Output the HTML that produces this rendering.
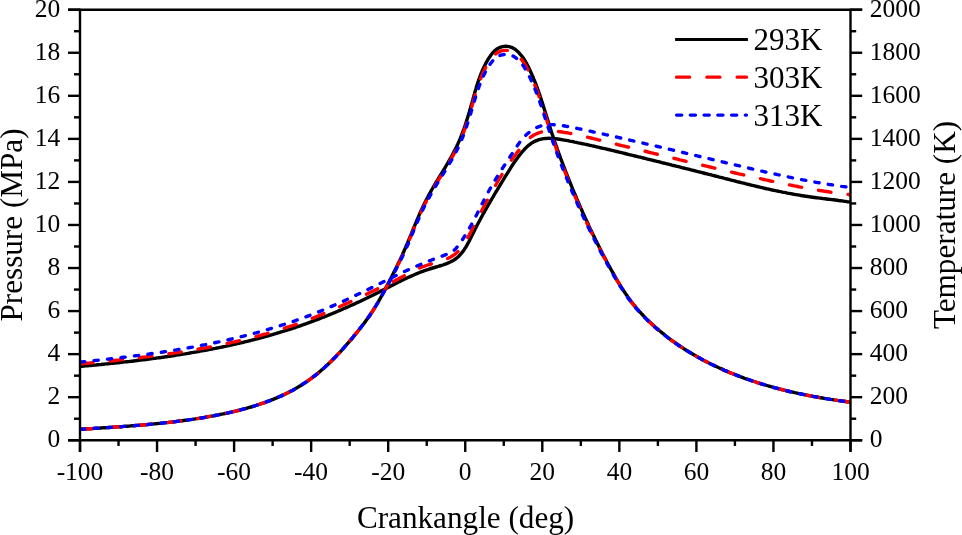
<!DOCTYPE html>
<html><head><meta charset="utf-8"><title>Pressure and temperature vs crank angle</title>
<style>
html,body{margin:0;padding:0;background:#fff;}
body{width:962px;height:535px;overflow:hidden;font-family:"Liberation Serif",serif;}
svg{display:block;will-change:transform;}
svg text{font-family:"Liberation Serif",serif;fill:#000;}
.tk text{font-size:25.5px;}
.ttl{font-size:31.2px;}
.lg text{font-size:31px;}
.crv path{fill:none;stroke-width:3.4;stroke-linejoin:round;}
</style></head>
<body>
<svg width="962" height="535" viewBox="0 0 962 535">
<rect width="962" height="535" fill="#fff"/>
<defs><clipPath id="c"><rect x="80.0" y="0" width="770.5" height="440.25"/></clipPath></defs>
<g class="crv" clip-path="url(#c)">
<path d="M80.5,366.4 L82.2,366.3 L83.9,366.1 L85.6,365.9 L87.4,365.8 L89.1,365.6 L90.8,365.5 L92.5,365.3 L94.2,365.1 L95.9,365.0 L97.6,364.8 L99.3,364.6 L101.1,364.5 L102.8,364.3 L104.5,364.1 L106.2,363.9 L107.9,363.8 L109.6,363.6 L111.3,363.4 L113.1,363.2 L114.8,363.1 L116.5,362.9 L118.2,362.7 L119.9,362.5 L121.6,362.3 L123.3,362.1 L125.0,361.9 L126.8,361.7 L128.5,361.6 L130.2,361.4 L131.9,361.2 L133.6,361.0 L135.3,360.8 L137.0,360.5 L138.7,360.3 L140.5,360.1 L142.2,359.9 L143.9,359.7 L145.6,359.5 L147.3,359.3 L149.0,359.1 L150.7,358.8 L152.4,358.6 L154.2,358.4 L155.9,358.2 L157.6,357.9 L159.3,357.7 L161.0,357.5 L162.7,357.2 L164.4,357.0 L166.1,356.7 L167.8,356.5 L169.5,356.2 L171.2,356.0 L172.9,355.7 L174.6,355.5 L176.3,355.2 L178.1,354.9 L179.8,354.7 L181.5,354.4 L183.2,354.1 L184.9,353.9 L186.6,353.6 L188.3,353.3 L190.0,353.0 L191.7,352.7 L193.4,352.4 L195.1,352.1 L196.8,351.9 L198.5,351.6 L200.2,351.2 L201.9,350.9 L203.6,350.6 L205.2,350.3 L206.9,350.0 L208.6,349.7 L210.3,349.4 L212.0,349.0 L213.7,348.7 L215.4,348.4 L217.1,348.0 L218.8,347.7 L220.5,347.3 L222.1,347.0 L223.8,346.6 L225.5,346.3 L227.2,345.9 L228.9,345.6 L230.6,345.2 L232.2,344.8 L233.9,344.4 L235.6,344.1 L237.3,343.7 L239.0,343.3 L240.6,342.9 L242.3,342.5 L244.0,342.1 L245.7,341.7 L247.3,341.3 L249.0,340.9 L250.7,340.5 L252.3,340.0 L254.0,339.6 L255.7,339.2 L257.3,338.8 L259.0,338.3 L260.7,337.9 L262.3,337.4 L264.0,337.0 L265.6,336.5 L267.3,336.1 L269.0,335.6 L270.6,335.1 L272.3,334.6 L273.9,334.2 L275.6,333.7 L277.2,333.2 L278.9,332.7 L280.5,332.2 L282.2,331.7 L283.8,331.2 L285.4,330.7 L287.1,330.1 L288.7,329.6 L290.4,329.1 L292.0,328.6 L293.6,328.0 L295.3,327.5 L296.9,326.9 L298.5,326.4 L300.2,325.8 L301.8,325.2 L303.4,324.7 L305.0,324.1 L306.7,323.5 L308.3,322.9 L309.9,322.3 L311.5,321.7 L313.1,321.1 L314.8,320.5 L316.4,319.9 L318.0,319.3 L319.6,318.7 L321.2,318.0 L322.8,317.4 L324.4,316.8 L326.0,316.1 L327.6,315.5 L329.2,314.8 L330.8,314.2 L332.4,313.5 L334.0,312.9 L335.6,312.2 L337.2,311.5 L338.8,310.8 L340.4,310.2 L342.0,309.5 L343.5,308.8 L345.1,308.1 L346.7,307.4 L348.3,306.7 L349.8,306.0 L351.4,305.3 L353.0,304.6 L354.6,303.9 L356.1,303.1 L357.7,302.4 L359.3,301.7 L360.8,301.0 L362.4,300.2 L363.9,299.5 L365.5,298.7 L367.0,298.0 L368.6,297.2 L370.1,296.5 L371.7,295.7 L373.2,295.0 L374.8,294.2 L376.3,293.4 L377.8,292.7 L379.4,291.9 L380.9,291.1 L382.4,290.3 L384.0,289.6 L385.5,288.8 L387.0,288.0 L388.6,287.2 L390.1,286.4 L391.6,285.6 L393.1,284.9 L394.7,284.1 L396.2,283.3 L397.7,282.5 L399.3,281.8 L400.8,281.0 L402.3,280.2 L403.9,279.5 L405.4,278.8 L407.0,278.0 L408.5,277.3 L410.1,276.6 L411.7,275.9 L413.2,275.2 L414.8,274.5 L416.4,273.8 L418.0,273.2 L419.6,272.5 L421.2,271.9 L422.8,271.3 L424.5,270.7 L426.1,270.1 L427.8,269.6 L429.4,269.0 L431.1,268.5 L432.8,268.0 L434.5,267.5 L436.2,267.0 L437.8,266.5 L439.5,266.0 L441.2,265.5 L442.8,265.0 L444.5,264.4 L446.1,263.8 L447.7,263.2 L449.2,262.5 L450.7,261.8 L452.2,261.0 L453.6,260.2 L455.0,259.3 L456.3,258.3 L457.6,257.3 L458.8,256.2 L460.0,255.0 L461.1,253.7 L462.2,252.4 L463.2,251.1 L464.2,249.6 L465.1,248.2 L466.1,246.7 L467.0,245.2 L467.8,243.6 L468.7,242.0 L469.5,240.4 L470.3,238.8 L471.1,237.2 L471.9,235.6 L472.7,234.0 L473.5,232.4 L474.3,230.9 L475.0,229.3 L475.8,227.7 L476.6,226.2 L477.4,224.7 L478.2,223.2 L479.0,221.7 L479.8,220.2 L480.6,218.7 L481.4,217.2 L482.2,215.7 L483.0,214.2 L483.8,212.8 L484.7,211.3 L485.5,209.8 L486.3,208.4 L487.2,206.9 L488.0,205.4 L488.9,203.9 L489.8,202.4 L490.6,200.9 L491.5,199.5 L492.4,198.0 L493.3,196.5 L494.1,195.0 L495.0,193.5 L495.9,192.0 L496.8,190.6 L497.7,189.1 L498.6,187.6 L499.5,186.1 L500.4,184.6 L501.3,183.1 L502.2,181.6 L503.1,180.2 L504.0,178.7 L504.9,177.2 L505.8,175.7 L506.7,174.3 L507.7,172.8 L508.6,171.3 L509.5,169.8 L510.4,168.4 L511.3,166.9 L512.2,165.5 L513.2,164.0 L514.1,162.6 L515.1,161.2 L516.1,159.8 L517.1,158.4 L518.1,157.0 L519.2,155.6 L520.2,154.3 L521.3,152.9 L522.4,151.6 L523.6,150.3 L524.8,149.0 L526.0,147.8 L527.2,146.6 L528.5,145.4 L529.9,144.4 L531.2,143.4 L532.7,142.4 L534.2,141.6 L535.7,140.9 L537.3,140.3 L538.9,139.7 L540.5,139.3 L542.2,138.9 L543.8,138.6 L545.6,138.5 L547.3,138.4 L549.0,138.3 L550.7,138.4 L552.5,138.5 L554.2,138.6 L555.9,138.8 L557.6,139.0 L559.4,139.3 L561.1,139.5 L562.8,139.8 L564.5,140.1 L566.2,140.4 L567.9,140.7 L569.6,141.1 L571.3,141.4 L573.0,141.7 L574.7,142.1 L576.4,142.4 L578.1,142.8 L579.8,143.1 L581.5,143.5 L583.1,143.8 L584.8,144.2 L586.5,144.5 L588.2,144.9 L589.9,145.3 L591.6,145.7 L593.2,146.0 L594.9,146.4 L596.6,146.8 L598.3,147.2 L599.9,147.6 L601.6,148.0 L603.3,148.3 L605.0,148.7 L606.6,149.1 L608.3,149.5 L610.0,149.9 L611.7,150.3 L613.3,150.7 L615.0,151.1 L616.7,151.5 L618.3,151.9 L620.0,152.3 L621.7,152.7 L623.4,153.1 L625.0,153.5 L626.7,154.0 L628.4,154.4 L630.0,154.8 L631.7,155.2 L633.4,155.6 L635.1,156.0 L636.7,156.4 L638.4,156.8 L640.1,157.2 L641.8,157.6 L643.4,158.0 L645.1,158.4 L646.8,158.9 L648.4,159.3 L650.1,159.7 L651.8,160.1 L653.5,160.5 L655.1,160.9 L656.8,161.3 L658.5,161.7 L660.2,162.1 L661.8,162.6 L663.5,163.0 L665.2,163.4 L666.8,163.8 L668.5,164.2 L670.2,164.6 L671.9,165.1 L673.5,165.5 L675.2,165.9 L676.9,166.3 L678.6,166.7 L680.2,167.1 L681.9,167.6 L683.6,168.0 L685.2,168.4 L686.9,168.8 L688.6,169.2 L690.3,169.7 L691.9,170.1 L693.6,170.5 L695.3,170.9 L697.0,171.4 L698.6,171.8 L700.3,172.2 L702.0,172.6 L703.6,173.0 L705.3,173.5 L707.0,173.9 L708.7,174.3 L710.3,174.7 L712.0,175.2 L713.7,175.6 L715.3,176.0 L717.0,176.4 L718.7,176.9 L720.3,177.3 L722.0,177.7 L723.7,178.2 L725.4,178.6 L727.0,179.0 L728.7,179.4 L730.4,179.9 L732.0,180.3 L733.7,180.7 L735.4,181.1 L737.1,181.6 L738.7,182.0 L740.4,182.4 L742.1,182.8 L743.7,183.2 L745.4,183.7 L747.1,184.1 L748.8,184.5 L750.4,184.9 L752.1,185.3 L753.8,185.7 L755.5,186.1 L757.1,186.5 L758.8,186.9 L760.5,187.3 L762.2,187.7 L763.8,188.1 L765.5,188.5 L767.2,188.8 L768.9,189.2 L770.5,189.6 L772.2,190.0 L773.9,190.3 L775.6,190.7 L777.3,191.0 L779.0,191.4 L780.6,191.7 L782.3,192.1 L784.0,192.4 L785.7,192.7 L787.4,193.1 L789.1,193.4 L790.8,193.7 L792.5,194.0 L794.2,194.3 L795.9,194.6 L797.6,194.9 L799.3,195.2 L801.0,195.5 L802.7,195.8 L804.4,196.0 L806.1,196.3 L807.8,196.5 L809.5,196.8 L811.2,197.0 L812.9,197.3 L814.6,197.5 L816.3,197.7 L818.0,197.9 L819.7,198.1 L821.5,198.3 L823.2,198.6 L824.9,198.8 L826.6,199.0 L828.3,199.2 L830.0,199.4 L831.7,199.6 L833.5,199.8 L835.2,200.0 L836.9,200.2 L838.6,200.5 L840.3,200.7 L842.0,200.9 L843.7,201.2 L845.4,201.4 L847.1,201.7 L848.8,201.9 L850.5,202.2" stroke="#000"/>
<path d="M80.5,429.2 L82.2,429.2 L83.8,429.1 L85.5,429.0 L87.2,428.9 L88.9,428.8 L90.5,428.7 L92.2,428.6 L93.9,428.4 L95.5,428.3 L97.2,428.2 L98.9,428.1 L100.6,428.0 L102.2,427.9 L103.9,427.8 L105.6,427.7 L107.2,427.6 L108.9,427.5 L110.6,427.4 L112.2,427.3 L113.9,427.1 L115.6,427.0 L117.2,426.9 L118.9,426.8 L120.6,426.7 L122.2,426.6 L123.9,426.4 L125.6,426.3 L127.2,426.2 L128.9,426.1 L130.6,425.9 L132.2,425.8 L133.9,425.7 L135.6,425.5 L137.2,425.4 L138.9,425.3 L140.6,425.1 L142.2,425.0 L143.9,424.9 L145.5,424.7 L147.2,424.6 L148.9,424.4 L150.5,424.3 L152.2,424.1 L153.8,423.9 L155.5,423.8 L157.2,423.6 L158.8,423.4 L160.5,423.3 L162.1,423.1 L163.8,422.9 L165.5,422.7 L167.1,422.6 L168.8,422.4 L170.4,422.2 L172.1,422.0 L173.7,421.8 L175.4,421.6 L177.1,421.4 L178.7,421.2 L180.4,421.0 L182.0,420.8 L183.7,420.5 L185.3,420.3 L187.0,420.1 L188.6,419.9 L190.3,419.6 L191.9,419.4 L193.6,419.1 L195.3,418.9 L196.9,418.6 L198.6,418.4 L200.2,418.1 L201.9,417.8 L203.5,417.6 L205.2,417.3 L206.8,417.0 L208.5,416.7 L210.1,416.4 L211.8,416.1 L213.4,415.8 L215.1,415.5 L216.7,415.2 L218.4,414.9 L220.0,414.5 L221.7,414.2 L223.3,413.9 L225.0,413.5 L226.6,413.2 L228.3,412.8 L229.9,412.4 L231.5,412.1 L233.2,411.7 L234.8,411.3 L236.4,410.9 L238.1,410.5 L239.7,410.1 L241.3,409.7 L243.0,409.2 L244.6,408.8 L246.2,408.4 L247.8,407.9 L249.4,407.4 L251.0,407.0 L252.7,406.5 L254.3,406.0 L255.9,405.5 L257.4,405.0 L259.0,404.5 L260.6,403.9 L262.2,403.4 L263.8,402.9 L265.4,402.3 L266.9,401.7 L268.5,401.1 L270.0,400.6 L271.6,399.9 L273.1,399.3 L274.7,398.7 L276.2,398.1 L277.7,397.4 L279.3,396.7 L280.8,396.1 L282.3,395.4 L283.8,394.7 L285.3,394.0 L286.8,393.2 L288.3,392.5 L289.7,391.7 L291.2,391.0 L292.7,390.2 L294.1,389.4 L295.6,388.6 L297.0,387.8 L298.4,386.9 L299.8,386.1 L301.2,385.2 L302.6,384.3 L304.0,383.4 L305.4,382.5 L306.8,381.6 L308.2,380.6 L309.5,379.7 L310.9,378.7 L312.2,377.7 L313.5,376.7 L314.9,375.7 L316.2,374.6 L317.5,373.6 L318.8,372.5 L320.1,371.4 L321.3,370.3 L322.6,369.2 L323.9,368.1 L325.1,367.0 L326.3,365.8 L327.6,364.7 L328.8,363.5 L330.0,362.4 L331.2,361.2 L332.4,360.0 L333.6,358.8 L334.8,357.6 L336.0,356.4 L337.1,355.2 L338.3,353.9 L339.5,352.7 L340.6,351.5 L341.8,350.2 L342.9,349.0 L344.0,347.7 L345.1,346.4 L346.2,345.2 L347.3,343.9 L348.4,342.6 L349.5,341.3 L350.6,340.0 L351.7,338.8 L352.8,337.5 L353.8,336.2 L354.9,334.9 L355.9,333.6 L357.0,332.3 L358.0,331.0 L359.1,329.7 L360.1,328.4 L361.1,327.1 L362.1,325.8 L363.1,324.5 L364.1,323.2 L365.1,321.9 L366.1,320.5 L367.0,319.2 L368.0,317.9 L369.0,316.5 L369.9,315.2 L370.8,313.8 L371.7,312.4 L372.7,311.0 L373.6,309.6 L374.4,308.2 L375.3,306.8 L376.2,305.4 L377.0,304.0 L377.9,302.5 L378.7,301.1 L379.5,299.6 L380.4,298.1 L381.2,296.7 L382.0,295.2 L382.8,293.7 L383.6,292.2 L384.4,290.7 L385.2,289.3 L386.0,287.8 L386.7,286.3 L387.5,284.8 L388.3,283.3 L389.1,281.8 L389.8,280.3 L390.6,278.9 L391.4,277.4 L392.1,275.9 L392.9,274.4 L393.6,272.9 L394.4,271.4 L395.1,269.9 L395.9,268.4 L396.6,266.9 L397.3,265.4 L398.0,263.9 L398.8,262.4 L399.5,260.9 L400.2,259.4 L400.9,257.9 L401.6,256.4 L402.3,254.9 L403.0,253.3 L403.7,251.8 L404.3,250.3 L405.0,248.8 L405.7,247.2 L406.3,245.7 L407.0,244.2 L407.7,242.6 L408.3,241.1 L408.9,239.6 L409.6,238.0 L410.2,236.5 L410.9,234.9 L411.5,233.4 L412.1,231.8 L412.8,230.3 L413.4,228.7 L414.0,227.2 L414.7,225.6 L415.3,224.1 L416.0,222.5 L416.6,221.0 L417.3,219.5 L417.9,217.9 L418.6,216.4 L419.2,214.9 L419.9,213.3 L420.6,211.8 L421.3,210.3 L422.0,208.8 L422.7,207.2 L423.4,205.7 L424.1,204.2 L424.8,202.7 L425.6,201.2 L426.3,199.7 L427.1,198.2 L427.9,196.8 L428.7,195.3 L429.5,193.8 L430.3,192.4 L431.1,190.9 L431.9,189.5 L432.8,188.0 L433.6,186.6 L434.5,185.1 L435.3,183.7 L436.2,182.2 L437.0,180.8 L437.9,179.4 L438.8,177.9 L439.7,176.5 L440.5,175.1 L441.4,173.6 L442.3,172.2 L443.1,170.8 L444.0,169.3 L444.9,167.9 L445.7,166.5 L446.6,165.0 L447.4,163.6 L448.3,162.1 L449.1,160.7 L449.9,159.2 L450.8,157.8 L451.6,156.3 L452.4,154.9 L453.2,153.4 L453.9,151.9 L454.7,150.4 L455.4,149.0 L456.2,147.5 L456.9,146.0 L457.6,144.5 L458.3,142.9 L459.0,141.4 L459.6,139.9 L460.3,138.4 L460.9,136.8 L461.5,135.3 L462.1,133.7 L462.7,132.1 L463.3,130.6 L463.9,129.0 L464.4,127.4 L465.0,125.8 L465.5,124.3 L466.0,122.7 L466.5,121.1 L467.0,119.5 L467.5,117.9 L468.0,116.3 L468.5,114.7 L469.0,113.1 L469.5,111.4 L469.9,109.8 L470.4,108.2 L470.9,106.6 L471.3,105.0 L471.8,103.4 L472.2,101.8 L472.7,100.2 L473.1,98.6 L473.6,96.9 L474.0,95.3 L474.5,93.7 L474.9,92.1 L475.4,90.5 L475.9,88.9 L476.3,87.3 L476.8,85.8 L477.3,84.2 L477.8,82.6 L478.4,81.0 L478.9,79.4 L479.5,77.9 L480.0,76.3 L480.6,74.8 L481.2,73.2 L481.9,71.7 L482.5,70.1 L483.2,68.6 L483.9,67.1 L484.7,65.6 L485.4,64.1 L486.2,62.6 L487.1,61.1 L487.9,59.7 L488.8,58.2 L489.8,56.8 L490.8,55.3 L491.8,54.0 L492.9,52.7 L494.0,51.5 L495.2,50.3 L496.5,49.3 L497.9,48.4 L499.3,47.7 L500.8,47.1 L502.4,46.7 L504.1,46.4 L505.7,46.3 L507.4,46.4 L509.1,46.7 L510.7,47.1 L512.3,47.7 L513.8,48.5 L515.2,49.4 L516.5,50.5 L517.8,51.6 L519.0,52.8 L520.1,54.1 L521.2,55.3 L522.3,56.7 L523.2,58.0 L524.2,59.4 L525.0,60.8 L525.9,62.3 L526.7,63.7 L527.5,65.2 L528.3,66.7 L529.0,68.2 L529.7,69.7 L530.4,71.2 L531.1,72.7 L531.8,74.3 L532.4,75.8 L533.1,77.3 L533.7,78.9 L534.4,80.4 L535.0,82.0 L535.6,83.5 L536.2,85.1 L536.8,86.6 L537.3,88.2 L537.9,89.8 L538.5,91.4 L539.0,92.9 L539.6,94.5 L540.1,96.1 L540.6,97.7 L541.2,99.3 L541.7,100.9 L542.2,102.4 L542.7,104.0 L543.2,105.6 L543.7,107.2 L544.2,108.8 L544.7,110.4 L545.2,112.0 L545.7,113.6 L546.2,115.2 L546.7,116.8 L547.2,118.4 L547.7,120.0 L548.2,121.6 L548.7,123.2 L549.2,124.8 L549.7,126.4 L550.2,128.0 L550.7,129.6 L551.2,131.2 L551.7,132.8 L552.3,134.4 L552.8,135.9 L553.3,137.5 L553.8,139.1 L554.4,140.7 L554.9,142.3 L555.5,143.9 L556.0,145.4 L556.6,147.0 L557.1,148.6 L557.7,150.2 L558.2,151.7 L558.8,153.3 L559.4,154.9 L560.0,156.4 L560.5,158.0 L561.1,159.6 L561.7,161.1 L562.3,162.7 L562.9,164.3 L563.5,165.8 L564.1,167.4 L564.7,168.9 L565.3,170.5 L565.9,172.1 L566.5,173.6 L567.1,175.2 L567.7,176.7 L568.3,178.3 L569.0,179.8 L569.6,181.4 L570.2,182.9 L570.8,184.5 L571.5,186.0 L572.1,187.6 L572.7,189.1 L573.4,190.6 L574.0,192.2 L574.7,193.7 L575.3,195.3 L576.0,196.8 L576.6,198.4 L577.3,199.9 L577.9,201.4 L578.6,203.0 L579.3,204.5 L579.9,206.0 L580.6,207.6 L581.3,209.1 L582.0,210.6 L582.6,212.2 L583.3,213.7 L584.0,215.2 L584.7,216.7 L585.4,218.3 L586.1,219.8 L586.8,221.3 L587.5,222.8 L588.2,224.3 L588.9,225.9 L589.6,227.4 L590.3,228.9 L591.0,230.4 L591.8,231.9 L592.5,233.4 L593.2,234.9 L593.9,236.4 L594.7,237.9 L595.4,239.4 L596.1,240.9 L596.9,242.4 L597.6,243.9 L598.4,245.4 L599.1,246.9 L599.9,248.4 L600.6,249.9 L601.4,251.4 L602.2,252.9 L602.9,254.4 L603.7,255.8 L604.5,257.3 L605.3,258.8 L606.1,260.3 L606.8,261.7 L607.6,263.2 L608.4,264.7 L609.2,266.2 L610.0,267.6 L610.8,269.1 L611.6,270.5 L612.4,272.0 L613.3,273.4 L614.1,274.9 L614.9,276.3 L615.7,277.8 L616.6,279.2 L617.4,280.7 L618.3,282.1 L619.1,283.5 L620.0,285.0 L620.9,286.4 L621.8,287.8 L622.7,289.2 L623.6,290.6 L624.5,292.0 L625.4,293.4 L626.3,294.7 L627.3,296.1 L628.2,297.5 L629.2,298.8 L630.2,300.1 L631.2,301.5 L632.2,302.8 L633.2,304.1 L634.3,305.4 L635.4,306.7 L636.4,308.0 L637.5,309.3 L638.6,310.5 L639.7,311.8 L640.9,313.0 L642.0,314.3 L643.2,315.5 L644.3,316.7 L645.5,317.9 L646.7,319.1 L647.9,320.3 L649.1,321.5 L650.3,322.6 L651.6,323.8 L652.8,324.9 L654.1,326.0 L655.3,327.2 L656.6,328.3 L657.9,329.4 L659.2,330.5 L660.5,331.5 L661.7,332.6 L663.1,333.7 L664.4,334.7 L665.7,335.8 L667.0,336.8 L668.3,337.8 L669.7,338.8 L671.0,339.8 L672.4,340.8 L673.7,341.8 L675.1,342.7 L676.4,343.7 L677.8,344.7 L679.2,345.6 L680.6,346.5 L682.0,347.4 L683.3,348.4 L684.7,349.3 L686.2,350.2 L687.6,351.0 L689.0,351.9 L690.4,352.8 L691.8,353.6 L693.3,354.5 L694.7,355.3 L696.1,356.1 L697.6,357.0 L699.0,357.8 L700.5,358.6 L702.0,359.4 L703.4,360.2 L704.9,360.9 L706.4,361.7 L707.9,362.5 L709.3,363.2 L710.8,364.0 L712.3,364.7 L713.8,365.4 L715.3,366.1 L716.8,366.8 L718.3,367.5 L719.9,368.2 L721.4,368.9 L722.9,369.6 L724.4,370.3 L726.0,370.9 L727.5,371.6 L729.0,372.2 L730.6,372.9 L732.1,373.5 L733.7,374.1 L735.2,374.7 L736.8,375.3 L738.3,375.9 L739.9,376.5 L741.5,377.1 L743.0,377.7 L744.6,378.3 L746.2,378.8 L747.8,379.4 L749.4,379.9 L750.9,380.5 L752.5,381.0 L754.1,381.5 L755.7,382.0 L757.3,382.6 L758.9,383.1 L760.5,383.6 L762.1,384.1 L763.7,384.5 L765.3,385.0 L766.9,385.5 L768.5,386.0 L770.1,386.4 L771.8,386.9 L773.4,387.3 L775.0,387.8 L776.6,388.2 L778.2,388.6 L779.9,389.0 L781.5,389.5 L783.1,389.9 L784.8,390.3 L786.4,390.7 L788.0,391.1 L789.6,391.5 L791.3,391.8 L792.9,392.2 L794.6,392.6 L796.2,392.9 L797.8,393.3 L799.5,393.7 L801.1,394.0 L802.8,394.3 L804.4,394.7 L806.0,395.0 L807.7,395.3 L809.3,395.7 L811.0,396.0 L812.6,396.3 L814.3,396.6 L815.9,396.9 L817.6,397.2 L819.2,397.5 L820.9,397.8 L822.5,398.0 L824.2,398.3 L825.8,398.6 L827.4,398.9 L829.1,399.1 L830.7,399.4 L832.4,399.6 L834.0,399.9 L835.7,400.1 L837.3,400.4 L839.0,400.6 L840.6,400.8 L842.3,401.1 L843.9,401.3 L845.5,401.5 L847.2,401.7 L848.8,401.9 L850.5,402.3" stroke="#000"/>
<path d="M80.5,363.9 L82.2,363.7 L83.9,363.6 L85.6,363.4 L87.3,363.2 L89.1,363.1 L90.8,362.9 L92.5,362.7 L94.2,362.6 L95.9,362.4 L97.6,362.2 L99.3,362.1 L101.0,361.9 L102.8,361.7 L104.5,361.5 L106.2,361.4 L107.9,361.2 L109.6,361.0 L111.3,360.8 L113.1,360.7 L114.8,360.5 L116.5,360.3 L118.2,360.1 L119.9,359.9 L121.6,359.7 L123.4,359.5 L125.1,359.4 L126.8,359.2 L128.5,359.0 L130.2,358.8 L131.9,358.6 L133.7,358.4 L135.4,358.2 L137.1,358.0 L138.8,357.8 L140.5,357.6 L142.3,357.3 L144.0,357.1 L145.7,356.9 L147.4,356.7 L149.1,356.5 L150.8,356.3 L152.6,356.0 L154.3,355.8 L156.0,355.6 L157.7,355.4 L159.4,355.1 L161.1,354.9 L162.8,354.7 L164.6,354.4 L166.3,354.2 L168.0,353.9 L169.7,353.7 L171.4,353.4 L173.1,353.2 L174.8,352.9 L176.6,352.7 L178.3,352.4 L180.0,352.1 L181.7,351.9 L183.4,351.6 L185.1,351.3 L186.8,351.0 L188.5,350.8 L190.2,350.5 L191.9,350.2 L193.6,349.9 L195.3,349.6 L197.0,349.3 L198.8,349.0 L200.5,348.7 L202.2,348.4 L203.9,348.1 L205.6,347.8 L207.3,347.5 L209.0,347.1 L210.7,346.8 L212.4,346.5 L214.0,346.2 L215.7,345.8 L217.4,345.5 L219.1,345.1 L220.8,344.8 L222.5,344.4 L224.2,344.1 L225.9,343.7 L227.6,343.4 L229.3,343.0 L231.0,342.6 L232.6,342.2 L234.3,341.9 L236.0,341.5 L237.7,341.1 L239.4,340.7 L241.1,340.3 L242.7,339.9 L244.4,339.5 L246.1,339.1 L247.8,338.7 L249.4,338.2 L251.1,337.8 L252.8,337.4 L254.4,336.9 L256.1,336.5 L257.8,336.1 L259.4,335.6 L261.1,335.2 L262.8,334.7 L264.4,334.2 L266.1,333.8 L267.8,333.3 L269.4,332.8 L271.1,332.3 L272.7,331.8 L274.4,331.4 L276.0,330.9 L277.7,330.3 L279.3,329.8 L281.0,329.3 L282.6,328.8 L284.2,328.3 L285.9,327.7 L287.5,327.2 L289.2,326.7 L290.8,326.1 L292.4,325.6 L294.1,325.0 L295.7,324.4 L297.3,323.9 L298.9,323.3 L300.6,322.7 L302.2,322.1 L303.8,321.5 L305.4,320.9 L307.0,320.3 L308.6,319.7 L310.3,319.1 L311.9,318.5 L313.5,317.8 L315.1,317.2 L316.7,316.5 L318.3,315.9 L319.9,315.2 L321.5,314.6 L323.1,313.9 L324.7,313.2 L326.3,312.6 L327.9,311.9 L329.4,311.2 L331.0,310.5 L332.6,309.8 L334.2,309.1 L335.8,308.4 L337.4,307.7 L338.9,307.0 L340.5,306.3 L342.1,305.5 L343.7,304.8 L345.3,304.1 L346.8,303.4 L348.4,302.7 L350.0,301.9 L351.5,301.2 L353.1,300.5 L354.7,299.7 L356.2,299.0 L357.8,298.3 L359.4,297.5 L360.9,296.8 L362.5,296.0 L364.1,295.3 L365.6,294.6 L367.2,293.8 L368.8,293.1 L370.3,292.3 L371.9,291.6 L373.4,290.9 L375.0,290.1 L376.6,289.4 L378.1,288.7 L379.7,287.9 L381.2,287.2 L382.8,286.5 L384.4,285.7 L385.9,285.0 L387.5,284.3 L389.0,283.5 L390.6,282.8 L392.1,282.0 L393.7,281.2 L395.2,280.5 L396.7,279.7 L398.3,278.9 L399.8,278.1 L401.3,277.3 L402.9,276.5 L404.4,275.7 L405.9,274.8 L407.4,274.0 L408.9,273.2 L410.5,272.4 L412.0,271.6 L413.5,270.8 L415.1,270.0 L416.6,269.3 L418.2,268.6 L419.8,267.9 L421.4,267.2 L423.0,266.6 L424.6,266.1 L426.3,265.5 L427.9,265.0 L429.6,264.5 L431.3,264.0 L432.9,263.5 L434.6,263.0 L436.3,262.6 L438.0,262.1 L439.6,261.5 L441.3,261.0 L442.9,260.4 L444.5,259.8 L446.1,259.2 L447.7,258.5 L449.2,257.7 L450.8,256.9 L452.2,256.0 L453.7,255.1 L455.1,254.1 L456.4,253.0 L457.7,251.8 L458.9,250.6 L460.0,249.3 L461.1,248.0 L462.1,246.6 L463.1,245.2 L464.1,243.8 L465.0,242.3 L465.9,240.8 L466.8,239.4 L467.6,237.9 L468.5,236.3 L469.3,234.8 L470.1,233.3 L470.9,231.8 L471.7,230.2 L472.5,228.7 L473.2,227.1 L474.0,225.6 L474.8,224.0 L475.6,222.5 L476.3,221.0 L477.1,219.4 L477.9,217.9 L478.7,216.3 L479.5,214.8 L480.3,213.3 L481.1,211.8 L481.9,210.2 L482.7,208.7 L483.5,207.2 L484.3,205.7 L485.1,204.1 L486.0,202.6 L486.8,201.1 L487.6,199.6 L488.4,198.1 L489.3,196.5 L490.1,195.0 L490.9,193.5 L491.8,192.0 L492.6,190.5 L493.4,189.0 L494.3,187.5 L495.1,186.0 L496.0,184.5 L496.9,183.0 L497.7,181.5 L498.6,180.0 L499.5,178.5 L500.4,177.0 L501.3,175.6 L502.2,174.1 L503.1,172.6 L504.0,171.2 L505.0,169.7 L505.9,168.3 L506.8,166.8 L507.8,165.4 L508.8,164.0 L509.8,162.6 L510.7,161.1 L511.8,159.7 L512.8,158.3 L513.8,157.0 L514.8,155.6 L515.9,154.2 L516.9,152.8 L518.0,151.4 L519.0,150.1 L520.1,148.7 L521.2,147.3 L522.3,145.9 L523.4,144.5 L524.5,143.2 L525.6,141.9 L526.8,140.7 L528.1,139.5 L529.4,138.3 L530.7,137.2 L532.1,136.2 L533.5,135.3 L535.0,134.5 L536.6,133.8 L538.2,133.1 L539.8,132.5 L541.4,132.0 L543.1,131.7 L544.8,131.4 L546.5,131.2 L548.2,131.1 L550.0,131.0 L551.7,131.0 L553.4,131.1 L555.2,131.2 L556.9,131.4 L558.7,131.6 L560.4,131.8 L562.1,132.0 L563.8,132.3 L565.6,132.6 L567.3,132.8 L569.0,133.2 L570.7,133.5 L572.4,133.8 L574.1,134.2 L575.8,134.5 L577.4,134.9 L579.1,135.3 L580.8,135.6 L582.5,136.0 L584.2,136.4 L585.8,136.8 L587.5,137.2 L589.2,137.6 L590.9,138.0 L592.5,138.4 L594.2,138.8 L595.9,139.2 L597.6,139.7 L599.3,140.1 L600.9,140.5 L602.6,140.9 L604.3,141.3 L606.0,141.7 L607.6,142.1 L609.3,142.5 L611.0,142.9 L612.7,143.3 L614.3,143.7 L616.0,144.1 L617.7,144.6 L619.4,145.0 L621.0,145.4 L622.7,145.8 L624.4,146.2 L626.1,146.6 L627.8,147.0 L629.4,147.4 L631.1,147.8 L632.8,148.3 L634.5,148.7 L636.1,149.1 L637.8,149.5 L639.5,149.9 L641.2,150.3 L642.8,150.7 L644.5,151.1 L646.2,151.5 L647.9,152.0 L649.6,152.4 L651.2,152.8 L652.9,153.2 L654.6,153.6 L656.3,154.0 L657.9,154.4 L659.6,154.8 L661.3,155.2 L663.0,155.7 L664.7,156.1 L666.3,156.5 L668.0,156.9 L669.7,157.3 L671.4,157.7 L673.0,158.1 L674.7,158.5 L676.4,158.9 L678.1,159.3 L679.8,159.8 L681.4,160.2 L683.1,160.6 L684.8,161.0 L686.5,161.4 L688.2,161.8 L689.8,162.2 L691.5,162.6 L693.2,163.0 L694.9,163.4 L696.6,163.8 L698.2,164.2 L699.9,164.6 L701.6,165.0 L703.3,165.4 L705.0,165.8 L706.6,166.2 L708.3,166.6 L710.0,167.0 L711.7,167.4 L713.4,167.8 L715.0,168.2 L716.7,168.6 L718.4,169.0 L720.1,169.4 L721.8,169.8 L723.4,170.2 L725.1,170.6 L726.8,171.0 L728.5,171.4 L730.2,171.8 L731.9,172.2 L733.5,172.6 L735.2,173.0 L736.9,173.4 L738.6,173.8 L740.3,174.2 L741.9,174.5 L743.6,174.9 L745.3,175.3 L747.0,175.7 L748.7,176.1 L750.4,176.5 L752.0,176.9 L753.7,177.2 L755.4,177.6 L757.1,178.0 L758.8,178.4 L760.5,178.7 L762.2,179.1 L763.8,179.5 L765.5,179.9 L767.2,180.2 L768.9,180.6 L770.6,181.0 L772.3,181.3 L774.0,181.7 L775.6,182.1 L777.3,182.4 L779.0,182.8 L780.7,183.1 L782.4,183.5 L784.1,183.8 L785.8,184.2 L787.5,184.5 L789.2,184.9 L790.9,185.2 L792.5,185.5 L794.2,185.9 L795.9,186.2 L797.6,186.5 L799.3,186.9 L801.0,187.2 L802.7,187.5 L804.4,187.8 L806.1,188.1 L807.8,188.4 L809.5,188.7 L811.2,189.0 L812.9,189.3 L814.6,189.6 L816.3,189.9 L818.0,190.2 L819.7,190.5 L821.4,190.7 L823.1,191.0 L824.8,191.3 L826.5,191.5 L828.3,191.8 L830.0,192.1 L831.7,192.3 L833.4,192.5 L835.1,192.8 L836.8,193.0 L838.5,193.2 L840.2,193.5 L842.0,193.7 L843.7,193.9 L845.4,194.1 L847.1,194.3 L848.8,194.5 L850.5,195.0" stroke="#f00" stroke-dasharray="12.5 17.14" stroke-linecap="round"/>
<path d="M80.5,429.2 L82.2,429.2 L83.8,429.1 L85.5,429.0 L87.2,428.9 L88.9,428.8 L90.5,428.7 L92.2,428.6 L93.9,428.4 L95.5,428.3 L97.2,428.2 L98.9,428.1 L100.6,428.0 L102.2,427.9 L103.9,427.8 L105.6,427.7 L107.2,427.6 L108.9,427.5 L110.6,427.4 L112.2,427.3 L113.9,427.1 L115.6,427.0 L117.2,426.9 L118.9,426.8 L120.6,426.7 L122.2,426.6 L123.9,426.4 L125.6,426.3 L127.2,426.2 L128.9,426.1 L130.6,425.9 L132.2,425.8 L133.9,425.7 L135.6,425.5 L137.2,425.4 L138.9,425.3 L140.6,425.1 L142.2,425.0 L143.9,424.9 L145.5,424.7 L147.2,424.6 L148.9,424.4 L150.5,424.3 L152.2,424.1 L153.8,423.9 L155.5,423.8 L157.2,423.6 L158.8,423.4 L160.5,423.3 L162.1,423.1 L163.8,422.9 L165.5,422.7 L167.1,422.6 L168.8,422.4 L170.4,422.2 L172.1,422.0 L173.7,421.8 L175.4,421.6 L177.1,421.4 L178.7,421.2 L180.4,421.0 L182.0,420.8 L183.7,420.5 L185.3,420.3 L187.0,420.1 L188.6,419.9 L190.3,419.6 L191.9,419.4 L193.6,419.1 L195.3,418.9 L196.9,418.6 L198.6,418.4 L200.2,418.1 L201.9,417.8 L203.5,417.6 L205.2,417.3 L206.8,417.0 L208.5,416.7 L210.1,416.4 L211.8,416.1 L213.4,415.8 L215.1,415.5 L216.7,415.2 L218.4,414.9 L220.0,414.5 L221.7,414.2 L223.3,413.9 L225.0,413.5 L226.6,413.2 L228.3,412.8 L229.9,412.4 L231.5,412.1 L233.2,411.7 L234.8,411.3 L236.4,410.9 L238.1,410.5 L239.7,410.1 L241.3,409.7 L243.0,409.2 L244.6,408.8 L246.2,408.4 L247.8,407.9 L249.4,407.4 L251.0,407.0 L252.7,406.5 L254.3,406.0 L255.9,405.5 L257.4,405.0 L259.0,404.5 L260.6,403.9 L262.2,403.4 L263.8,402.9 L265.4,402.3 L266.9,401.7 L268.5,401.1 L270.0,400.6 L271.6,399.9 L273.1,399.3 L274.7,398.7 L276.2,398.1 L277.7,397.4 L279.3,396.7 L280.8,396.1 L282.3,395.4 L283.8,394.7 L285.3,394.0 L286.8,393.2 L288.3,392.5 L289.7,391.7 L291.2,391.0 L292.7,390.2 L294.1,389.4 L295.6,388.6 L297.0,387.8 L298.4,386.9 L299.8,386.1 L301.2,385.2 L302.6,384.3 L304.0,383.4 L305.4,382.5 L306.8,381.6 L308.2,380.6 L309.5,379.7 L310.9,378.7 L312.2,377.7 L313.5,376.7 L314.9,375.7 L316.2,374.6 L317.5,373.6 L318.8,372.5 L320.1,371.4 L321.3,370.3 L322.6,369.2 L323.9,368.1 L325.1,367.0 L326.3,365.8 L327.6,364.7 L328.8,363.5 L330.0,362.4 L331.2,361.2 L332.4,360.0 L333.6,358.8 L334.8,357.6 L336.0,356.4 L337.1,355.2 L338.3,353.9 L339.5,352.7 L340.6,351.5 L341.8,350.2 L342.9,349.0 L344.0,347.7 L345.1,346.4 L346.2,345.2 L347.3,343.9 L348.4,342.6 L349.5,341.3 L350.6,340.0 L351.7,338.8 L352.8,337.5 L353.8,336.2 L354.9,334.9 L355.9,333.6 L357.0,332.3 L358.0,331.0 L359.1,329.7 L360.1,328.4 L361.1,327.1 L362.1,325.8 L363.1,324.5 L364.1,323.2 L365.1,321.9 L366.1,320.5 L367.0,319.2 L368.0,317.9 L369.0,316.5 L369.9,315.2 L370.8,313.8 L371.7,312.4 L372.7,311.0 L373.6,309.6 L374.4,308.2 L375.3,306.8 L376.2,305.4 L377.0,304.0 L377.9,302.5 L378.7,301.1 L379.5,299.6 L380.4,298.2 L381.2,296.7 L382.0,295.3 L382.8,293.8 L383.6,292.4 L384.4,290.9 L385.2,289.4 L386.0,288.0 L386.7,286.5 L387.5,285.1 L388.3,283.6 L389.1,282.2 L389.8,280.7 L390.6,279.3 L391.4,277.8 L392.1,276.3 L392.9,274.9 L393.6,273.4 L394.4,272.0 L395.1,270.5 L395.9,269.1 L396.6,267.6 L397.3,266.1 L398.0,264.7 L398.8,263.2 L399.5,261.7 L400.2,260.3 L400.9,258.8 L401.6,257.3 L402.3,255.8 L403.0,254.4 L403.7,252.9 L404.3,251.4 L405.0,249.9 L405.7,248.4 L406.3,246.8 L407.0,245.3 L407.7,243.8 L408.3,242.3 L408.9,240.8 L409.6,239.2 L410.2,237.7 L410.9,236.2 L411.5,234.6 L412.1,233.1 L412.8,231.5 L413.4,230.0 L414.0,228.5 L414.7,226.9 L415.3,225.4 L416.0,223.9 L416.6,222.3 L417.3,220.8 L417.9,219.3 L418.6,217.7 L419.2,216.2 L419.9,214.7 L420.6,213.2 L421.3,211.7 L422.0,210.1 L422.7,208.6 L423.4,207.1 L424.1,205.6 L424.8,204.1 L425.6,202.7 L426.3,201.2 L427.1,199.7 L427.9,198.2 L428.7,196.8 L429.5,195.3 L430.3,193.9 L431.1,192.4 L431.9,191.0 L432.8,189.5 L433.6,188.1 L434.5,186.6 L435.3,185.2 L436.2,183.8 L437.0,182.4 L437.9,180.9 L438.8,179.5 L439.7,178.1 L440.5,176.7 L441.4,175.2 L442.3,173.8 L443.1,172.4 L444.0,171.0 L444.9,169.5 L445.7,168.1 L446.6,166.7 L447.4,165.3 L448.3,163.9 L449.1,162.4 L449.9,161.0 L450.8,159.6 L451.6,158.1 L452.4,156.7 L453.2,155.3 L453.9,153.8 L454.7,152.4 L455.4,151.0 L456.2,149.5 L456.9,148.1 L457.6,146.6 L458.3,145.1 L459.0,143.6 L459.6,142.2 L460.3,140.7 L460.9,139.2 L461.5,137.6 L462.1,136.1 L462.7,134.6 L463.3,133.1 L463.9,131.6 L464.4,130.0 L465.0,128.5 L465.5,126.9 L466.0,125.4 L466.5,123.8 L467.0,122.3 L467.5,120.7 L468.0,119.1 L468.5,117.6 L469.0,116.0 L469.5,114.4 L469.9,112.9 L470.4,111.3 L470.9,109.7 L471.3,108.2 L471.8,106.6 L472.2,105.0 L472.7,103.4 L473.1,101.9 L473.6,100.3 L474.0,98.7 L474.5,97.2 L474.9,95.6 L475.4,94.1 L475.9,92.5 L476.3,90.9 L476.8,89.4 L477.3,87.8 L477.8,86.3 L478.4,84.7 L478.9,83.2 L479.5,81.6 L480.0,80.1 L480.6,78.6 L481.2,77.1 L481.9,75.5 L482.5,74.0 L483.2,72.5 L483.9,71.0 L484.7,69.5 L485.4,68.0 L486.2,66.5 L487.1,65.1 L487.9,63.6 L488.8,62.2 L489.8,60.7 L490.8,59.3 L491.8,58.0 L492.9,56.7 L494.0,55.5 L495.2,54.4 L496.5,53.3 L497.9,52.5 L499.3,51.7 L500.8,51.1 L502.4,50.7 L504.1,50.4 L505.7,50.4 L507.4,50.4 L509.1,50.7 L510.7,51.1 L512.3,51.7 L513.8,52.5 L515.2,53.4 L516.5,54.4 L517.8,55.6 L519.0,56.7 L520.1,58.0 L521.2,59.2 L522.3,60.5 L523.2,61.9 L524.2,63.2 L525.0,64.6 L525.9,66.1 L526.7,67.5 L527.5,69.0 L528.3,70.4 L529.0,71.9 L529.7,73.4 L530.4,74.9 L531.1,76.4 L531.8,77.9 L532.4,79.4 L533.1,81.0 L533.7,82.5 L534.4,84.0 L535.0,85.5 L535.6,87.1 L536.2,88.6 L536.8,90.1 L537.3,91.7 L537.9,93.2 L538.5,94.8 L539.0,96.3 L539.6,97.9 L540.1,99.4 L540.6,101.0 L541.2,102.5 L541.7,104.1 L542.2,105.7 L542.7,107.2 L543.2,108.8 L543.7,110.4 L544.2,111.9 L544.7,113.5 L545.2,115.1 L545.7,116.7 L546.2,118.2 L546.7,119.8 L547.2,121.4 L547.7,123.0 L548.2,124.5 L548.7,126.1 L549.2,127.7 L549.7,129.3 L550.2,130.8 L550.7,132.4 L551.2,134.0 L551.7,135.5 L552.3,137.1 L552.8,138.7 L553.3,140.2 L553.8,141.8 L554.4,143.3 L554.9,144.9 L555.5,146.5 L556.0,148.0 L556.6,149.6 L557.1,151.1 L557.7,152.7 L558.2,154.2 L558.8,155.8 L559.4,157.3 L560.0,158.9 L560.5,160.4 L561.1,161.9 L561.7,163.5 L562.3,165.0 L562.9,166.6 L563.5,168.1 L564.1,169.6 L564.7,171.2 L565.3,172.7 L565.9,174.2 L566.5,175.8 L567.1,177.3 L567.7,178.8 L568.3,180.4 L569.0,181.9 L569.6,183.4 L570.2,184.9 L570.8,186.5 L571.5,188.0 L572.1,189.5 L572.7,191.0 L573.4,192.6 L574.0,194.1 L574.7,195.6 L575.3,197.1 L576.0,198.6 L576.6,200.2 L577.3,201.7 L577.9,203.2 L578.6,204.7 L579.3,206.2 L579.9,207.7 L580.6,209.3 L581.3,210.8 L582.0,212.3 L582.6,213.8 L583.3,215.3 L584.0,216.8 L584.7,218.3 L585.4,219.8 L586.1,221.3 L586.8,222.8 L587.5,224.3 L588.2,225.7 L588.9,227.2 L589.6,228.7 L590.3,230.2 L591.0,231.7 L591.8,233.1 L592.5,234.6 L593.2,236.1 L593.9,237.6 L594.7,239.0 L595.4,240.5 L596.1,242.0 L596.9,243.4 L597.6,244.9 L598.4,246.4 L599.1,247.8 L599.9,249.3 L600.6,250.8 L601.4,252.2 L602.2,253.7 L602.9,255.2 L603.7,256.6 L604.5,258.1 L605.3,259.5 L606.1,261.0 L606.8,262.4 L607.6,263.9 L608.4,265.4 L609.2,266.8 L610.0,268.3 L610.8,269.7 L611.6,271.2 L612.4,272.6 L613.3,274.0 L614.1,275.5 L614.9,276.9 L615.7,278.4 L616.6,279.8 L617.4,281.2 L618.3,282.6 L619.1,284.0 L620.0,285.5 L620.9,286.9 L621.8,288.3 L622.7,289.6 L623.6,291.0 L624.5,292.4 L625.4,293.8 L626.3,295.2 L627.3,296.5 L628.2,297.9 L629.2,299.2 L630.2,300.5 L631.2,301.9 L632.2,303.2 L633.2,304.5 L634.3,305.8 L635.4,307.1 L636.4,308.3 L637.5,309.6 L638.6,310.8 L639.7,312.1 L640.9,313.3 L642.0,314.6 L643.2,315.8 L644.3,317.0 L645.5,318.2 L646.7,319.3 L647.9,320.5 L649.1,321.7 L650.3,322.8 L651.6,324.0 L652.8,325.1 L654.1,326.2 L655.3,327.3 L656.6,328.5 L657.9,329.5 L659.2,330.6 L660.5,331.7 L661.7,332.8 L663.1,333.8 L664.4,334.9 L665.7,335.9 L667.0,336.9 L668.3,337.9 L669.7,338.9 L671.0,339.9 L672.4,340.9 L673.7,341.9 L675.1,342.8 L676.4,343.8 L677.8,344.7 L679.2,345.7 L680.6,346.6 L682.0,347.5 L683.3,348.4 L684.7,349.3 L686.2,350.2 L687.6,351.1 L689.0,351.9 L690.4,352.8 L691.8,353.7 L693.3,354.5 L694.7,355.3 L696.1,356.2 L697.6,357.0 L699.0,357.8 L700.5,358.6 L702.0,359.4 L703.4,360.2 L704.9,360.9 L706.4,361.7 L707.9,362.5 L709.3,363.2 L710.8,364.0 L712.3,364.7 L713.8,365.4 L715.3,366.1 L716.8,366.8 L718.3,367.5 L719.9,368.2 L721.4,368.9 L722.9,369.6 L724.4,370.3 L726.0,370.9 L727.5,371.6 L729.0,372.2 L730.6,372.9 L732.1,373.5 L733.7,374.1 L735.2,374.7 L736.8,375.3 L738.3,375.9 L739.9,376.5 L741.5,377.1 L743.0,377.7 L744.6,378.3 L746.2,378.8 L747.8,379.4 L749.4,379.9 L750.9,380.5 L752.5,381.0 L754.1,381.5 L755.7,382.0 L757.3,382.6 L758.9,383.1 L760.5,383.6 L762.1,384.1 L763.7,384.5 L765.3,385.0 L766.9,385.5 L768.5,386.0 L770.1,386.4 L771.8,386.9 L773.4,387.3 L775.0,387.8 L776.6,388.2 L778.2,388.6 L779.9,389.0 L781.5,389.5 L783.1,389.9 L784.8,390.3 L786.4,390.7 L788.0,391.1 L789.6,391.5 L791.3,391.8 L792.9,392.2 L794.6,392.6 L796.2,392.9 L797.8,393.3 L799.5,393.7 L801.1,394.0 L802.8,394.3 L804.4,394.7 L806.0,395.0 L807.7,395.3 L809.3,395.7 L811.0,396.0 L812.6,396.3 L814.3,396.6 L815.9,396.9 L817.6,397.2 L819.2,397.5 L820.9,397.8 L822.5,398.0 L824.2,398.3 L825.8,398.6 L827.4,398.9 L829.1,399.1 L830.7,399.4 L832.4,399.6 L834.0,399.9 L835.7,400.1 L837.3,400.4 L839.0,400.6 L840.6,400.8 L842.3,401.1 L843.9,401.3 L845.5,401.5 L847.2,401.7 L848.8,401.9 L850.5,402.3" stroke="#f00" stroke-dasharray="12.5 16.9" stroke-linecap="round"/>
<path d="M80.5,362.0 L82.2,361.9 L83.9,361.7 L85.7,361.5 L87.4,361.3 L89.1,361.2 L90.8,361.0 L92.5,360.8 L94.2,360.6 L95.9,360.4 L97.6,360.3 L99.4,360.1 L101.1,359.9 L102.8,359.7 L104.5,359.5 L106.2,359.3 L107.9,359.1 L109.7,358.9 L111.4,358.7 L113.1,358.5 L114.8,358.3 L116.5,358.1 L118.2,357.9 L120.0,357.7 L121.7,357.5 L123.4,357.3 L125.1,357.1 L126.8,356.9 L128.6,356.7 L130.3,356.5 L132.0,356.3 L133.7,356.0 L135.4,355.8 L137.1,355.6 L138.9,355.4 L140.6,355.1 L142.3,354.9 L144.0,354.7 L145.7,354.5 L147.4,354.2 L149.2,354.0 L150.9,353.7 L152.6,353.5 L154.3,353.2 L156.0,353.0 L157.7,352.7 L159.5,352.5 L161.2,352.2 L162.9,352.0 L164.6,351.7 L166.3,351.5 L168.0,351.2 L169.7,350.9 L171.5,350.7 L173.2,350.4 L174.9,350.1 L176.6,349.8 L178.3,349.5 L180.0,349.2 L181.7,349.0 L183.4,348.7 L185.1,348.4 L186.8,348.1 L188.6,347.8 L190.3,347.5 L192.0,347.2 L193.7,346.8 L195.4,346.5 L197.1,346.2 L198.8,345.9 L200.5,345.6 L202.2,345.2 L203.9,344.9 L205.6,344.6 L207.3,344.2 L209.0,343.9 L210.7,343.6 L212.4,343.2 L214.1,342.9 L215.8,342.5 L217.5,342.1 L219.2,341.8 L220.9,341.4 L222.5,341.0 L224.2,340.7 L225.9,340.3 L227.6,339.9 L229.3,339.5 L231.0,339.1 L232.7,338.7 L234.4,338.3 L236.0,337.9 L237.7,337.5 L239.4,337.1 L241.1,336.7 L242.8,336.3 L244.4,335.9 L246.1,335.4 L247.8,335.0 L249.5,334.6 L251.1,334.1 L252.8,333.7 L254.5,333.2 L256.1,332.8 L257.8,332.3 L259.5,331.9 L261.1,331.4 L262.8,330.9 L264.5,330.5 L266.1,330.0 L267.8,329.5 L269.4,329.0 L271.1,328.5 L272.7,328.0 L274.4,327.5 L276.0,327.0 L277.7,326.5 L279.3,326.0 L281.0,325.4 L282.6,324.9 L284.3,324.4 L285.9,323.8 L287.6,323.3 L289.2,322.8 L290.8,322.2 L292.5,321.6 L294.1,321.1 L295.7,320.5 L297.4,319.9 L299.0,319.4 L300.6,318.8 L302.2,318.2 L303.9,317.6 L305.5,317.0 L307.1,316.4 L308.7,315.8 L310.3,315.2 L311.9,314.5 L313.6,313.9 L315.2,313.3 L316.8,312.6 L318.4,312.0 L320.0,311.3 L321.6,310.7 L323.2,310.0 L324.8,309.3 L326.4,308.7 L328.0,308.0 L329.5,307.3 L331.1,306.6 L332.7,305.9 L334.3,305.2 L335.9,304.5 L337.5,303.8 L339.1,303.1 L340.6,302.4 L342.2,301.7 L343.8,301.0 L345.4,300.2 L346.9,299.5 L348.5,298.8 L350.1,298.1 L351.6,297.3 L353.2,296.6 L354.8,295.8 L356.3,295.1 L357.9,294.3 L359.5,293.6 L361.0,292.8 L362.6,292.1 L364.1,291.3 L365.7,290.6 L367.3,289.8 L368.8,289.0 L370.4,288.3 L371.9,287.5 L373.5,286.7 L375.0,286.0 L376.6,285.2 L378.1,284.4 L379.7,283.7 L381.2,282.9 L382.8,282.1 L384.3,281.4 L385.8,280.6 L387.4,279.8 L388.9,279.1 L390.5,278.3 L392.0,277.5 L393.6,276.8 L395.1,276.0 L396.7,275.3 L398.3,274.5 L399.8,273.8 L401.4,273.0 L402.9,272.3 L404.5,271.5 L406.1,270.8 L407.6,270.1 L409.2,269.4 L410.8,268.7 L412.4,268.0 L414.0,267.3 L415.6,266.6 L417.2,265.9 L418.7,265.2 L420.3,264.5 L421.9,263.9 L423.6,263.2 L425.2,262.5 L426.8,261.9 L428.4,261.3 L430.0,260.6 L431.6,260.0 L433.2,259.4 L434.8,258.8 L436.4,258.2 L438.0,257.6 L439.6,257.0 L441.2,256.4 L442.8,255.8 L444.5,255.2 L446.1,254.6 L447.8,254.0 L449.5,253.3 L451.1,252.5 L452.5,251.6 L453.9,250.5 L455.1,249.3 L456.2,248.1 L457.3,246.7 L458.4,245.3 L459.4,243.9 L460.4,242.5 L461.4,241.1 L462.4,239.7 L463.3,238.3 L464.2,236.8 L465.2,235.3 L466.1,233.9 L467.0,232.4 L467.8,230.9 L468.7,229.4 L469.6,227.9 L470.4,226.4 L471.3,224.9 L472.1,223.4 L472.9,221.9 L473.7,220.3 L474.5,218.8 L475.3,217.3 L476.1,215.7 L476.9,214.2 L477.7,212.6 L478.5,211.1 L479.2,209.5 L480.0,208.0 L480.8,206.4 L481.6,204.9 L482.4,203.3 L483.2,201.8 L483.9,200.2 L484.7,198.7 L485.5,197.2 L486.3,195.6 L487.1,194.1 L488.0,192.6 L488.8,191.1 L489.6,189.5 L490.5,188.0 L491.3,186.5 L492.2,185.0 L493.0,183.6 L493.9,182.1 L494.8,180.6 L495.7,179.1 L496.6,177.6 L497.5,176.2 L498.4,174.7 L499.3,173.3 L500.3,171.8 L501.2,170.3 L502.1,168.9 L503.1,167.4 L504.0,166.0 L505.0,164.5 L505.9,163.1 L506.9,161.6 L507.8,160.2 L508.8,158.7 L509.7,157.3 L510.7,155.8 L511.6,154.4 L512.6,152.9 L513.5,151.4 L514.5,150.0 L515.4,148.5 L516.4,147.1 L517.4,145.6 L518.4,144.2 L519.4,142.8 L520.4,141.4 L521.5,140.1 L522.6,138.8 L523.8,137.5 L524.9,136.2 L526.1,135.0 L527.4,133.8 L528.7,132.7 L530.1,131.6 L531.5,130.6 L532.9,129.7 L534.4,128.8 L535.9,128.0 L537.5,127.2 L539.1,126.6 L540.7,126.0 L542.4,125.5 L544.1,125.1 L545.8,124.8 L547.5,124.6 L549.2,124.6 L551.0,124.6 L552.7,124.6 L554.5,124.7 L556.2,124.9 L558.0,125.0 L559.7,125.2 L561.4,125.5 L563.1,125.7 L564.8,126.0 L566.5,126.3 L568.2,126.6 L569.9,126.9 L571.6,127.2 L573.3,127.6 L575.0,127.9 L576.7,128.3 L578.4,128.7 L580.1,129.0 L581.8,129.4 L583.5,129.7 L585.2,130.1 L586.8,130.5 L588.5,130.8 L590.2,131.2 L591.9,131.6 L593.6,132.0 L595.3,132.3 L597.0,132.7 L598.7,133.1 L600.4,133.4 L602.0,133.8 L603.7,134.2 L605.4,134.6 L607.1,134.9 L608.8,135.3 L610.5,135.7 L612.2,136.1 L613.9,136.5 L615.5,136.8 L617.2,137.2 L618.9,137.6 L620.6,138.0 L622.3,138.4 L624.0,138.7 L625.7,139.1 L627.4,139.5 L629.0,139.9 L630.7,140.3 L632.4,140.7 L634.1,141.1 L635.8,141.5 L637.5,141.8 L639.2,142.2 L640.8,142.6 L642.5,143.0 L644.2,143.4 L645.9,143.8 L647.6,144.2 L649.3,144.6 L651.0,145.0 L652.6,145.4 L654.3,145.8 L656.0,146.1 L657.7,146.5 L659.4,146.9 L661.1,147.3 L662.7,147.7 L664.4,148.1 L666.1,148.5 L667.8,148.9 L669.5,149.3 L671.2,149.7 L672.9,150.1 L674.5,150.5 L676.2,150.9 L677.9,151.3 L679.6,151.7 L681.3,152.1 L683.0,152.5 L684.6,152.9 L686.3,153.3 L688.0,153.7 L689.7,154.1 L691.4,154.5 L693.1,154.9 L694.7,155.3 L696.4,155.7 L698.1,156.1 L699.8,156.5 L701.5,156.9 L703.2,157.3 L704.8,157.7 L706.5,158.1 L708.2,158.5 L709.9,158.9 L711.6,159.3 L713.3,159.7 L714.9,160.1 L716.6,160.5 L718.3,160.9 L720.0,161.3 L721.7,161.7 L723.4,162.1 L725.0,162.5 L726.7,162.9 L728.4,163.3 L730.1,163.7 L731.8,164.1 L733.5,164.5 L735.1,164.9 L736.8,165.3 L738.5,165.7 L740.2,166.1 L741.9,166.5 L743.6,166.9 L745.2,167.3 L746.9,167.7 L748.6,168.1 L750.3,168.5 L752.0,168.9 L753.7,169.3 L755.4,169.7 L757.0,170.0 L758.7,170.4 L760.4,170.8 L762.1,171.2 L763.8,171.6 L765.5,172.0 L767.2,172.3 L768.8,172.7 L770.5,173.1 L772.2,173.5 L773.9,173.8 L775.6,174.2 L777.3,174.6 L779.0,174.9 L780.7,175.3 L782.4,175.7 L784.1,176.0 L785.7,176.4 L787.4,176.7 L789.1,177.1 L790.8,177.4 L792.5,177.8 L794.2,178.1 L795.9,178.4 L797.6,178.8 L799.3,179.1 L801.0,179.5 L802.7,179.8 L804.4,180.1 L806.1,180.4 L807.8,180.7 L809.5,181.1 L811.2,181.4 L812.9,181.7 L814.6,182.0 L816.3,182.3 L818.0,182.6 L819.7,182.9 L821.4,183.2 L823.1,183.5 L824.8,183.8 L826.5,184.0 L828.2,184.3 L830.0,184.6 L831.7,184.8 L833.4,185.1 L835.1,185.4 L836.8,185.6 L838.5,185.9 L840.2,186.1 L841.9,186.4 L843.7,186.6 L845.4,186.8 L847.1,187.1 L848.8,187.3 L850.5,187.7" stroke="#00f" stroke-dasharray="4.3 9.268" stroke-linecap="round"/>
<path d="M80.5,429.2 L82.2,429.2 L83.8,429.1 L85.5,429.0 L87.2,428.9 L88.9,428.8 L90.5,428.7 L92.2,428.6 L93.9,428.4 L95.5,428.3 L97.2,428.2 L98.9,428.1 L100.6,428.0 L102.2,427.9 L103.9,427.8 L105.6,427.7 L107.2,427.6 L108.9,427.5 L110.6,427.4 L112.2,427.3 L113.9,427.1 L115.6,427.0 L117.2,426.9 L118.9,426.8 L120.6,426.7 L122.2,426.6 L123.9,426.4 L125.6,426.3 L127.2,426.2 L128.9,426.1 L130.6,425.9 L132.2,425.8 L133.9,425.7 L135.6,425.5 L137.2,425.4 L138.9,425.3 L140.6,425.1 L142.2,425.0 L143.9,424.9 L145.5,424.7 L147.2,424.6 L148.9,424.4 L150.5,424.3 L152.2,424.1 L153.8,423.9 L155.5,423.8 L157.2,423.6 L158.8,423.4 L160.5,423.3 L162.1,423.1 L163.8,422.9 L165.5,422.7 L167.1,422.6 L168.8,422.4 L170.4,422.2 L172.1,422.0 L173.7,421.8 L175.4,421.6 L177.1,421.4 L178.7,421.2 L180.4,421.0 L182.0,420.8 L183.7,420.5 L185.3,420.3 L187.0,420.1 L188.6,419.9 L190.3,419.6 L191.9,419.4 L193.6,419.1 L195.3,418.9 L196.9,418.6 L198.6,418.4 L200.2,418.1 L201.9,417.8 L203.5,417.6 L205.2,417.3 L206.8,417.0 L208.5,416.7 L210.1,416.4 L211.8,416.1 L213.4,415.8 L215.1,415.5 L216.7,415.2 L218.4,414.9 L220.0,414.5 L221.7,414.2 L223.3,413.9 L225.0,413.5 L226.6,413.2 L228.3,412.8 L229.9,412.4 L231.5,412.1 L233.2,411.7 L234.8,411.3 L236.4,410.9 L238.1,410.5 L239.7,410.1 L241.3,409.7 L243.0,409.2 L244.6,408.8 L246.2,408.4 L247.8,407.9 L249.4,407.4 L251.0,407.0 L252.7,406.5 L254.3,406.0 L255.9,405.5 L257.4,405.0 L259.0,404.5 L260.6,403.9 L262.2,403.4 L263.8,402.9 L265.4,402.3 L266.9,401.7 L268.5,401.1 L270.0,400.6 L271.6,399.9 L273.1,399.3 L274.7,398.7 L276.2,398.1 L277.7,397.4 L279.3,396.7 L280.8,396.1 L282.3,395.4 L283.8,394.7 L285.3,394.0 L286.8,393.2 L288.3,392.5 L289.7,391.7 L291.2,391.0 L292.7,390.2 L294.1,389.4 L295.6,388.6 L297.0,387.8 L298.4,386.9 L299.8,386.1 L301.2,385.2 L302.6,384.3 L304.0,383.4 L305.4,382.5 L306.8,381.6 L308.2,380.6 L309.5,379.7 L310.9,378.7 L312.2,377.7 L313.5,376.7 L314.9,375.7 L316.2,374.6 L317.5,373.6 L318.8,372.5 L320.1,371.4 L321.3,370.3 L322.6,369.2 L323.9,368.1 L325.1,367.0 L326.3,365.8 L327.6,364.7 L328.8,363.5 L330.0,362.4 L331.2,361.2 L332.4,360.0 L333.6,358.8 L334.8,357.6 L336.0,356.4 L337.1,355.2 L338.3,353.9 L339.5,352.7 L340.6,351.5 L341.8,350.2 L342.9,349.0 L344.0,347.7 L345.1,346.4 L346.2,345.2 L347.3,343.9 L348.4,342.6 L349.5,341.3 L350.6,340.0 L351.7,338.8 L352.8,337.5 L353.8,336.2 L354.9,334.9 L355.9,333.6 L357.0,332.3 L358.0,331.0 L359.1,329.7 L360.1,328.4 L361.1,327.1 L362.1,325.8 L363.1,324.5 L364.1,323.2 L365.1,321.9 L366.1,320.5 L367.0,319.2 L368.0,317.9 L369.0,316.5 L369.9,315.2 L370.8,313.8 L371.7,312.4 L372.7,311.0 L373.6,309.6 L374.4,308.2 L375.3,306.8 L376.2,305.4 L377.0,304.0 L377.9,302.6 L378.7,301.1 L379.5,299.7 L380.4,298.2 L381.2,296.8 L382.0,295.4 L382.8,293.9 L383.6,292.5 L384.4,291.1 L385.2,289.6 L386.0,288.2 L386.7,286.8 L387.5,285.4 L388.3,283.9 L389.1,282.5 L389.8,281.1 L390.6,279.7 L391.4,278.2 L392.1,276.8 L392.9,275.4 L393.6,274.0 L394.4,272.6 L395.1,271.1 L395.9,269.7 L396.6,268.3 L397.3,266.9 L398.0,265.4 L398.8,264.0 L399.5,262.6 L400.2,261.1 L400.9,259.7 L401.6,258.3 L402.3,256.8 L403.0,255.4 L403.7,253.9 L404.3,252.4 L405.0,251.0 L405.7,249.5 L406.3,248.0 L407.0,246.5 L407.7,245.0 L408.3,243.5 L408.9,242.0 L409.6,240.4 L410.2,238.9 L410.9,237.4 L411.5,235.9 L412.1,234.3 L412.8,232.8 L413.4,231.3 L414.0,229.7 L414.7,228.2 L415.3,226.7 L416.0,225.2 L416.6,223.6 L417.3,222.1 L417.9,220.6 L418.6,219.1 L419.2,217.6 L419.9,216.0 L420.6,214.5 L421.3,213.0 L422.0,211.5 L422.7,210.0 L423.4,208.5 L424.1,207.1 L424.8,205.6 L425.6,204.1 L426.3,202.6 L427.1,201.1 L427.9,199.7 L428.7,198.2 L429.5,196.8 L430.3,195.3 L431.1,193.9 L431.9,192.5 L432.8,191.0 L433.6,189.6 L434.5,188.2 L435.3,186.8 L436.2,185.3 L437.0,183.9 L437.9,182.5 L438.8,181.1 L439.7,179.7 L440.5,178.3 L441.4,176.8 L442.3,175.4 L443.1,174.0 L444.0,172.6 L444.9,171.2 L445.7,169.8 L446.6,168.4 L447.4,167.0 L448.3,165.6 L449.1,164.2 L449.9,162.8 L450.8,161.4 L451.6,160.0 L452.4,158.6 L453.2,157.2 L453.9,155.8 L454.7,154.4 L455.4,153.0 L456.2,151.6 L456.9,150.1 L457.6,148.7 L458.3,147.3 L459.0,145.9 L459.6,144.4 L460.3,143.0 L460.9,141.5 L461.5,140.0 L462.1,138.6 L462.7,137.1 L463.3,135.6 L463.9,134.1 L464.4,132.6 L465.0,131.1 L465.5,129.6 L466.0,128.1 L466.5,126.6 L467.0,125.1 L467.5,123.5 L468.0,122.0 L468.5,120.5 L469.0,119.0 L469.5,117.4 L469.9,115.9 L470.4,114.4 L470.9,112.8 L471.3,111.3 L471.8,109.8 L472.2,108.3 L472.7,106.7 L473.1,105.2 L473.6,103.7 L474.0,102.1 L474.5,100.6 L474.9,99.1 L475.4,97.6 L475.9,96.1 L476.3,94.5 L476.8,93.0 L477.3,91.5 L477.8,90.0 L478.4,88.5 L478.9,86.9 L479.5,85.4 L480.0,83.9 L480.6,82.4 L481.2,80.9 L481.9,79.4 L482.5,77.9 L483.2,76.4 L483.9,74.9 L484.7,73.4 L485.4,71.9 L486.2,70.5 L487.1,69.0 L487.9,67.6 L488.8,66.2 L489.8,64.7 L490.8,63.3 L491.8,62.0 L492.9,60.7 L494.0,59.5 L495.2,58.4 L496.5,57.4 L497.9,56.5 L499.3,55.8 L500.8,55.2 L502.4,54.8 L504.1,54.5 L505.7,54.4 L507.4,54.5 L509.1,54.7 L510.7,55.1 L512.3,55.7 L513.8,56.5 L515.2,57.4 L516.5,58.4 L517.8,59.5 L519.0,60.7 L520.1,61.9 L521.2,63.1 L522.3,64.4 L523.2,65.7 L524.2,67.1 L525.0,68.5 L525.9,69.9 L526.7,71.3 L527.5,72.7 L528.3,74.2 L529.0,75.7 L529.7,77.1 L530.4,78.6 L531.1,80.1 L531.8,81.6 L532.4,83.1 L533.1,84.6 L533.7,86.1 L534.4,87.6 L535.0,89.1 L535.6,90.6 L536.2,92.1 L536.8,93.6 L537.3,95.1 L537.9,96.7 L538.5,98.2 L539.0,99.7 L539.6,101.2 L540.1,102.8 L540.6,104.3 L541.2,105.8 L541.7,107.4 L542.2,108.9 L542.7,110.4 L543.2,112.0 L543.7,113.5 L544.2,115.1 L544.7,116.6 L545.2,118.2 L545.7,119.7 L546.2,121.3 L546.7,122.8 L547.2,124.4 L547.7,125.9 L548.2,127.5 L548.7,129.0 L549.2,130.6 L549.7,132.1 L550.2,133.7 L550.7,135.2 L551.2,136.8 L551.7,138.3 L552.3,139.8 L552.8,141.4 L553.3,142.9 L553.8,144.5 L554.4,146.0 L554.9,147.5 L555.5,149.1 L556.0,150.6 L556.6,152.1 L557.1,153.6 L557.7,155.2 L558.2,156.7 L558.8,158.2 L559.4,159.7 L560.0,161.3 L560.5,162.8 L561.1,164.3 L561.7,165.8 L562.3,167.3 L562.9,168.9 L563.5,170.4 L564.1,171.9 L564.7,173.4 L565.3,174.9 L565.9,176.4 L566.5,177.9 L567.1,179.4 L567.7,181.0 L568.3,182.5 L569.0,184.0 L569.6,185.5 L570.2,187.0 L570.8,188.5 L571.5,190.0 L572.1,191.5 L572.7,193.0 L573.4,194.5 L574.0,196.0 L574.7,197.5 L575.3,199.0 L576.0,200.5 L576.6,202.0 L577.3,203.5 L577.9,205.0 L578.6,206.5 L579.3,208.0 L579.9,209.5 L580.6,210.9 L581.3,212.4 L582.0,213.9 L582.6,215.4 L583.3,216.9 L584.0,218.4 L584.7,219.8 L585.4,221.3 L586.1,222.8 L586.8,224.2 L587.5,225.7 L588.2,227.1 L588.9,228.6 L589.6,230.0 L590.3,231.5 L591.0,232.9 L591.8,234.4 L592.5,235.8 L593.2,237.3 L593.9,238.7 L594.7,240.1 L595.4,241.6 L596.1,243.0 L596.9,244.5 L597.6,245.9 L598.4,247.3 L599.1,248.8 L599.9,250.2 L600.6,251.6 L601.4,253.1 L602.2,254.5 L602.9,255.9 L603.7,257.4 L604.5,258.8 L605.3,260.3 L606.1,261.7 L606.8,263.1 L607.6,264.6 L608.4,266.0 L609.2,267.5 L610.0,268.9 L610.8,270.3 L611.6,271.8 L612.4,273.2 L613.3,274.6 L614.1,276.1 L614.9,277.5 L615.7,278.9 L616.6,280.3 L617.4,281.7 L618.3,283.2 L619.1,284.6 L620.0,286.0 L620.9,287.3 L621.8,288.7 L622.7,290.1 L623.6,291.5 L624.5,292.9 L625.4,294.2 L626.3,295.6 L627.3,296.9 L628.2,298.3 L629.2,299.6 L630.2,300.9 L631.2,302.2 L632.2,303.5 L633.2,304.8 L634.3,306.1 L635.4,307.4 L636.4,308.7 L637.5,309.9 L638.6,311.2 L639.7,312.4 L640.9,313.6 L642.0,314.8 L643.2,316.0 L644.3,317.2 L645.5,318.4 L646.7,319.6 L647.9,320.8 L649.1,321.9 L650.3,323.1 L651.6,324.2 L652.8,325.3 L654.1,326.4 L655.3,327.5 L656.6,328.6 L657.9,329.7 L659.2,330.8 L660.5,331.9 L661.7,332.9 L663.1,334.0 L664.4,335.0 L665.7,336.0 L667.0,337.0 L668.3,338.0 L669.7,339.0 L671.0,340.0 L672.4,341.0 L673.7,342.0 L675.1,342.9 L676.4,343.9 L677.8,344.8 L679.2,345.7 L680.6,346.7 L682.0,347.6 L683.3,348.5 L684.7,349.4 L686.2,350.2 L687.6,351.1 L689.0,352.0 L690.4,352.8 L691.8,353.7 L693.3,354.5 L694.7,355.4 L696.1,356.2 L697.6,357.0 L699.0,357.8 L700.5,358.6 L702.0,359.4 L703.4,360.2 L704.9,360.9 L706.4,361.7 L707.9,362.5 L709.3,363.2 L710.8,364.0 L712.3,364.7 L713.8,365.4 L715.3,366.1 L716.8,366.8 L718.3,367.5 L719.9,368.2 L721.4,368.9 L722.9,369.6 L724.4,370.3 L726.0,370.9 L727.5,371.6 L729.0,372.2 L730.6,372.9 L732.1,373.5 L733.7,374.1 L735.2,374.7 L736.8,375.3 L738.3,375.9 L739.9,376.5 L741.5,377.1 L743.0,377.7 L744.6,378.3 L746.2,378.8 L747.8,379.4 L749.4,379.9 L750.9,380.5 L752.5,381.0 L754.1,381.5 L755.7,382.0 L757.3,382.6 L758.9,383.1 L760.5,383.6 L762.1,384.1 L763.7,384.5 L765.3,385.0 L766.9,385.5 L768.5,386.0 L770.1,386.4 L771.8,386.9 L773.4,387.3 L775.0,387.8 L776.6,388.2 L778.2,388.6 L779.9,389.0 L781.5,389.5 L783.1,389.9 L784.8,390.3 L786.4,390.7 L788.0,391.1 L789.6,391.5 L791.3,391.8 L792.9,392.2 L794.6,392.6 L796.2,392.9 L797.8,393.3 L799.5,393.7 L801.1,394.0 L802.8,394.3 L804.4,394.7 L806.0,395.0 L807.7,395.3 L809.3,395.7 L811.0,396.0 L812.6,396.3 L814.3,396.6 L815.9,396.9 L817.6,397.2 L819.2,397.5 L820.9,397.8 L822.5,398.0 L824.2,398.3 L825.8,398.6 L827.4,398.9 L829.1,399.1 L830.7,399.4 L832.4,399.6 L834.0,399.9 L835.7,400.1 L837.3,400.4 L839.0,400.6 L840.6,400.8 L842.3,401.1 L843.9,401.3 L845.5,401.5 L847.2,401.7 L848.8,401.9 L850.5,402.3" stroke="#00f" stroke-dasharray="4.3 9.15" stroke-linecap="round"/>
</g>
<g stroke="#000" stroke-width="2.4" fill="none">
<line x1="68.0" y1="9.7" x2="862.2" y2="9.7"/>
<line x1="68.0" y1="440.25" x2="862.2" y2="440.25"/>
<line x1="80.0" y1="8.7" x2="80.0" y2="451.75"/>
<line x1="850.5" y1="8.7" x2="850.5" y2="451.75"/>
<line x1="68.0" y1="440.25" x2="80.0" y2="440.25"/><line x1="850.5" y1="440.25" x2="862.2" y2="440.25"/><line x1="74.0" y1="418.72" x2="80.0" y2="418.72"/><line x1="850.5" y1="418.72" x2="856.2" y2="418.72"/><line x1="68.0" y1="397.19" x2="80.0" y2="397.19"/><line x1="850.5" y1="397.19" x2="862.2" y2="397.19"/><line x1="74.0" y1="375.67" x2="80.0" y2="375.67"/><line x1="850.5" y1="375.67" x2="856.2" y2="375.67"/><line x1="68.0" y1="354.14" x2="80.0" y2="354.14"/><line x1="850.5" y1="354.14" x2="862.2" y2="354.14"/><line x1="74.0" y1="332.61" x2="80.0" y2="332.61"/><line x1="850.5" y1="332.61" x2="856.2" y2="332.61"/><line x1="68.0" y1="311.08" x2="80.0" y2="311.08"/><line x1="850.5" y1="311.08" x2="862.2" y2="311.08"/><line x1="74.0" y1="289.56" x2="80.0" y2="289.56"/><line x1="850.5" y1="289.56" x2="856.2" y2="289.56"/><line x1="68.0" y1="268.03" x2="80.0" y2="268.03"/><line x1="850.5" y1="268.03" x2="862.2" y2="268.03"/><line x1="74.0" y1="246.50" x2="80.0" y2="246.50"/><line x1="850.5" y1="246.50" x2="856.2" y2="246.50"/><line x1="68.0" y1="224.97" x2="80.0" y2="224.97"/><line x1="850.5" y1="224.97" x2="862.2" y2="224.97"/><line x1="74.0" y1="203.45" x2="80.0" y2="203.45"/><line x1="850.5" y1="203.45" x2="856.2" y2="203.45"/><line x1="68.0" y1="181.92" x2="80.0" y2="181.92"/><line x1="850.5" y1="181.92" x2="862.2" y2="181.92"/><line x1="74.0" y1="160.39" x2="80.0" y2="160.39"/><line x1="850.5" y1="160.39" x2="856.2" y2="160.39"/><line x1="68.0" y1="138.87" x2="80.0" y2="138.87"/><line x1="850.5" y1="138.87" x2="862.2" y2="138.87"/><line x1="74.0" y1="117.34" x2="80.0" y2="117.34"/><line x1="850.5" y1="117.34" x2="856.2" y2="117.34"/><line x1="68.0" y1="95.81" x2="80.0" y2="95.81"/><line x1="850.5" y1="95.81" x2="862.2" y2="95.81"/><line x1="74.0" y1="74.28" x2="80.0" y2="74.28"/><line x1="850.5" y1="74.28" x2="856.2" y2="74.28"/><line x1="68.0" y1="52.75" x2="80.0" y2="52.75"/><line x1="850.5" y1="52.75" x2="862.2" y2="52.75"/><line x1="74.0" y1="31.23" x2="80.0" y2="31.23"/><line x1="850.5" y1="31.23" x2="856.2" y2="31.23"/><line x1="68.0" y1="9.70" x2="80.0" y2="9.70"/><line x1="850.5" y1="9.70" x2="862.2" y2="9.70"/><line x1="80.00" y1="440.25" x2="80.00" y2="451.95"/><line x1="118.53" y1="440.25" x2="118.53" y2="445.95"/><line x1="157.05" y1="440.25" x2="157.05" y2="451.95"/><line x1="195.57" y1="440.25" x2="195.57" y2="445.95"/><line x1="234.10" y1="440.25" x2="234.10" y2="451.95"/><line x1="272.62" y1="440.25" x2="272.62" y2="445.95"/><line x1="311.15" y1="440.25" x2="311.15" y2="451.95"/><line x1="349.68" y1="440.25" x2="349.68" y2="445.95"/><line x1="388.20" y1="440.25" x2="388.20" y2="451.95"/><line x1="426.73" y1="440.25" x2="426.73" y2="445.95"/><line x1="465.25" y1="440.25" x2="465.25" y2="451.95"/><line x1="503.77" y1="440.25" x2="503.77" y2="445.95"/><line x1="542.30" y1="440.25" x2="542.30" y2="451.95"/><line x1="580.83" y1="440.25" x2="580.83" y2="445.95"/><line x1="619.35" y1="440.25" x2="619.35" y2="451.95"/><line x1="657.88" y1="440.25" x2="657.88" y2="445.95"/><line x1="696.40" y1="440.25" x2="696.40" y2="451.95"/><line x1="734.92" y1="440.25" x2="734.92" y2="445.95"/><line x1="773.45" y1="440.25" x2="773.45" y2="451.95"/><line x1="811.98" y1="440.25" x2="811.98" y2="445.95"/><line x1="850.50" y1="440.25" x2="850.50" y2="451.95"/>
</g>
<g class="tk"><text x="60.2" y="447.2" text-anchor="end">0</text><text x="869.8" y="447.2">0</text><text x="60.2" y="404.2" text-anchor="end">2</text><text x="869.8" y="404.2">200</text><text x="60.2" y="361.1" text-anchor="end">4</text><text x="869.8" y="361.1">400</text><text x="60.2" y="318.1" text-anchor="end">6</text><text x="869.8" y="318.1">600</text><text x="60.2" y="275.0" text-anchor="end">8</text><text x="869.8" y="275.0">800</text><text x="60.2" y="232.0" text-anchor="end">10</text><text x="869.8" y="232.0">1000</text><text x="60.2" y="188.9" text-anchor="end">12</text><text x="869.8" y="188.9">1200</text><text x="60.2" y="145.9" text-anchor="end">14</text><text x="869.8" y="145.9">1400</text><text x="60.2" y="102.8" text-anchor="end">16</text><text x="869.8" y="102.8">1600</text><text x="60.2" y="59.8" text-anchor="end">18</text><text x="869.8" y="59.8">1800</text><text x="60.2" y="16.7" text-anchor="end">20</text><text x="869.8" y="16.7">2000</text><text x="80.0" y="479.7" text-anchor="middle">-100</text><text x="157.1" y="479.7" text-anchor="middle">-80</text><text x="234.1" y="479.7" text-anchor="middle">-60</text><text x="311.1" y="479.7" text-anchor="middle">-40</text><text x="388.2" y="479.7" text-anchor="middle">-20</text><text x="465.2" y="479.7" text-anchor="middle">0</text><text x="542.3" y="479.7" text-anchor="middle">20</text><text x="619.4" y="479.7" text-anchor="middle">40</text><text x="696.4" y="479.7" text-anchor="middle">60</text><text x="773.5" y="479.7" text-anchor="middle">80</text><text x="850.5" y="479.7" text-anchor="middle">100</text></g>
<text class="ttl" x="465.6" y="527.9" text-anchor="middle">Crankangle (deg)</text>
<text class="ttl" transform="translate(22,225) rotate(-90)" text-anchor="middle">Pressure (MPa)</text>
<text class="ttl" transform="translate(954.5,225) rotate(-90)" text-anchor="middle">Temperature (K)</text>
<g class="lg">
<line x1="675.1" y1="39.5" x2="747.9" y2="39.5" stroke="#000" stroke-width="3.2"/>
<line x1="676.55" y1="77.2" x2="746.5" y2="77.2" stroke="#f00" stroke-width="3.3" stroke-dasharray="13.05 17.25" stroke-linecap="round"/>
<line x1="676.55" y1="115.1" x2="746.5" y2="115.1" stroke="#00f" stroke-width="3.3" stroke-dasharray="5.2 8.55" stroke-linecap="round"/>
<text x="753.5" y="49.7">293K</text>
<text x="753.5" y="87.7">303K</text>
<text x="753.5" y="125.7">313K</text>
</g>
</svg>
</body></html>
